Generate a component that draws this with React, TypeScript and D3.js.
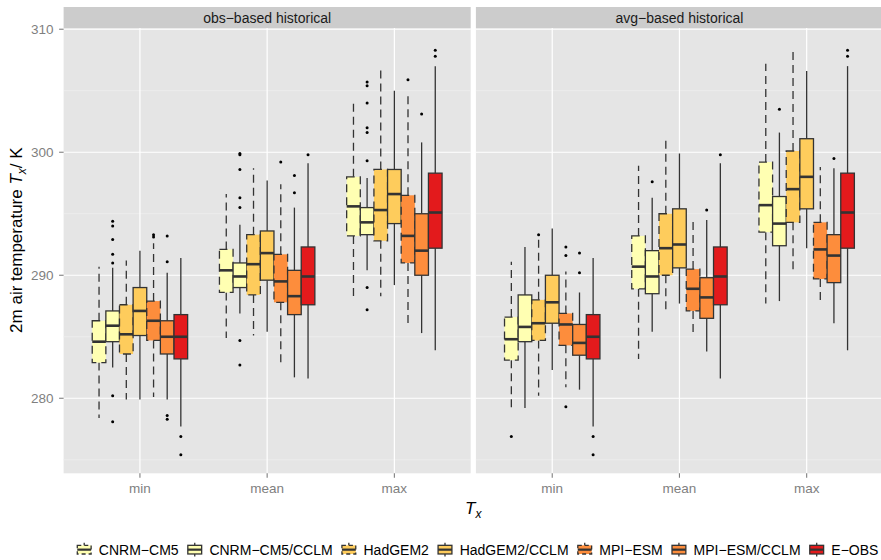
import React, { useRef, useEffect } from "react";
import * as d3 from "d3";

const width = 881;
const height = 560;
const panelTop = 28;
const panelBottom = 473.3;
const panelWidth = 407.1;
const panelLefts = [63.6, 475.9];
const stripHeight = 21;

const MODELS = ["CNRM−CM5", "CNRM−CM5/CCLM", "HadGEM2", "HadGEM2/CCLM", "MPI−ESM", "MPI−ESM/CCLM", "E−OBS"];
const FILLS = ["#FFFFB2", "#FFFFB2", "#FECC5C", "#FECC5C", "#FD8D3C", "#FD8D3C", "#E31A1C"];
const DASHED = [true, false, true, false, true, false, false];
const FACETS = ["obs−based historical", "avg−based historical"];
const STATS = ["min", "mean", "max"];
const Y_TICKS = [280, 290, 300, 310];
const Y_MINOR = [275, 285, 295, 305];

// each box: [lower whisker, q1, median, q3, upper whisker]
const obsMin = [
  [278.4, 282.9, 284.6, 286.3, 290.7],
  [282.5, 284.6, 285.9, 287.1, 290.6],
  [279.9, 283.6, 285.2, 287.6, 291.2],
  [279.9, 285.1, 287.1, 289.0, 292.0],
  [280.1, 284.7, 286.3, 287.9, 292.6],
  [279.9, 283.6, 285.0, 286.3, 290.2],
  [277.7, 283.2, 285.0, 286.8, 291.4],
];
const obsMinOut = [[], [294.4, 294.0, 292.9, 291.7, 291.0, 280.2, 278.1], [], [], [293.3, 293.1], [293.2, 291.1, 278.6, 278.3], [276.9, 275.4]];

const obsMean = [
  [284.9, 288.6, 290.4, 292.1, 296.6],
  [286.9, 289.0, 289.9, 291.0, 294.1],
  [285.1, 288.4, 290.9, 293.3, 298.7],
  [285.4, 289.6, 291.8, 293.6, 297.7],
  [282.8, 287.8, 289.5, 291.7, 297.4],
  [281.7, 286.8, 288.3, 290.4, 295.5],
  [281.6, 287.6, 289.9, 292.3, 299.1],
];
const obsMeanOut = [[], [299.9, 299.8, 298.6, 296.3, 295.5, 284.7, 282.7], [], [], [299.2], [298.1, 296.7], [299.8]];

const obsMax = [
  [288.3, 293.2, 295.6, 298.0, 304.3],
  [290.4, 293.3, 294.3, 295.5, 297.9],
  [288.3, 292.8, 295.3, 298.6, 306.7],
  [289.2, 294.2, 296.6, 298.6, 305.0],
  [285.8, 291.0, 293.2, 296.5, 304.7],
  [285.3, 290.0, 292.0, 295.0, 300.8],
  [283.9, 292.2, 295.1, 298.3, 307.0],
];
const obsMaxOut = [[], [305.7, 305.4, 304.0, 302.0, 301.6, 299.3, 289.0, 287.2], [], [], [305.9], [303.1], [308.3, 307.8]];

const avgMin = [
  [279.1, 283.1, 284.8, 286.6, 291.1],
  [279.2, 284.6, 285.8, 288.4, 292.3],
  [280.2, 284.7, 286.1, 288.0, 292.9],
  [282.3, 286.1, 287.8, 290.0, 293.8],
  [280.9, 284.3, 286.0, 286.9, 290.3],
  [280.7, 283.5, 284.5, 286.0, 288.6],
  [277.7, 283.2, 285.0, 286.8, 291.4],
];
const avgMinOut = [[276.9], [], [293.3], [], [292.3, 291.6, 279.3], [291.8, 290.2], [276.9, 275.4]];

const avgMean = [
  [283.2, 288.9, 290.7, 293.2, 298.9],
  [285.4, 288.5, 289.9, 292.0, 296.3],
  [287.2, 290.0, 292.2, 295.0, 301.2],
  [287.7, 290.6, 292.5, 295.4, 299.9],
  [285.2, 287.1, 288.9, 290.5, 294.5],
  [283.8, 286.5, 288.2, 289.8, 294.5],
  [281.6, 287.6, 289.9, 292.3, 299.1],
];
const avgMeanOut = [[], [297.6], [], [], [], [295.3], [299.8]];

const avgMax = [
  [287.7, 293.5, 295.7, 299.2, 307.2],
  [287.9, 292.4, 294.2, 296.4, 301.6],
  [290.1, 294.3, 297.0, 300.1, 308.2],
  [292.2, 295.4, 298.0, 301.1, 306.6],
  [287.7, 289.7, 292.1, 294.3, 298.8],
  [286.1, 289.4, 291.6, 293.3, 298.7],
  [283.9, 292.2, 295.1, 298.3, 307.0],
];
const avgMaxOut = [[], [303.5], [], [], [], [299.5], [308.3, 307.8]];

const BOXES = [[obsMin, obsMean, obsMax], [avgMin, avgMean, avgMax]];
const OUTLIERS = [[obsMinOut, obsMeanOut, obsMaxOut], [avgMinOut, avgMeanOut, avgMaxOut]];

const font = "'Liberation Sans', Arial, Helvetica, sans-serif";
const dash = "8,5";
const outline = "#333333";

const y = d3.scaleLinear().domain([273.9, 310.1]).range([panelBottom, panelTop]);

function drawChart(node: SVGSVGElement) {
  const svg = d3.select(node);
  svg.selectAll("*").remove();

  FACETS.forEach((facet, fi) => {
    const left = panelLefts[fi];
    const x = d3.scaleLinear().domain([0.4, 3.6]).range([left, left + panelWidth]);
    const g = svg.append("g");

    // strip
    g.append("rect")
      .attr("x", left).attr("y", panelTop - stripHeight)
      .attr("width", panelWidth).attr("height", stripHeight)
      .attr("fill", "#CCCCCC");
    g.append("text")
      .attr("x", left + panelWidth / 2).attr("y", panelTop - 5.5)
      .attr("text-anchor", "middle")
      .attr("font-size", 14).attr("font-family", font).attr("fill", "#1A1A1A")
      .text(facet);

    // panel
    g.append("rect")
      .attr("x", left).attr("y", panelTop)
      .attr("width", panelWidth).attr("height", panelBottom - panelTop)
      .attr("fill", "#E5E5E5");

    g.selectAll("line.minor").data(Y_MINOR).join("line")
      .attr("x1", left).attr("x2", left + panelWidth)
      .attr("y1", d => y(d)).attr("y2", d => y(d))
      .attr("stroke", "#F2F2F2").attr("stroke-width", 0.6);
    g.selectAll("line.major").data(Y_TICKS).join("line")
      .attr("x1", left).attr("x2", left + panelWidth)
      .attr("y1", d => y(d)).attr("y2", d => y(d))
      .attr("stroke", "#FFFFFF").attr("stroke-width", 1.2);
    g.selectAll("line.vgrid").data(STATS).join("line")
      .attr("x1", (d, i) => x(i + 1)).attr("x2", (d, i) => x(i + 1))
      .attr("y1", panelTop).attr("y2", panelBottom)
      .attr("stroke", "#FFFFFF").attr("stroke-width", 1.2);

    // x axis
    g.selectAll("line.xtick").data(STATS).join("line")
      .attr("x1", (d, i) => x(i + 1)).attr("x2", (d, i) => x(i + 1))
      .attr("y1", panelBottom).attr("y2", panelBottom + 4.5)
      .attr("stroke", "#7F7F7F").attr("stroke-width", 1.1);
    g.selectAll("text.xlab").data(STATS).join("text")
      .attr("x", (d, i) => x(i + 1)).attr("y", panelBottom + 20)
      .attr("text-anchor", "middle")
      .attr("font-size", 13.5).attr("font-family", font).attr("fill", "#7F7F7F")
      .text(d => d);

    // boxes
    const slot = (0.75 / MODELS.length);
    STATS.forEach((stat, si) => {
      MODELS.forEach((m, mi) => {
        const [lo, q1, med, q3, hi] = BOXES[fi][si][mi];
        const c = si + 1 + (mi - (MODELS.length - 1) / 2) * slot;
        const cx = x(c);
        const x0 = x(c - slot / 2);
        const x1 = x(c + slot / 2);
        const da = DASHED[mi] ? dash : null;
        const bg = g.append("g");
        bg.append("line")
          .attr("x1", cx).attr("x2", cx).attr("y1", y(q3)).attr("y2", y(hi))
          .attr("stroke", outline).attr("stroke-width", 1.3).attr("stroke-dasharray", da);
        bg.append("line")
          .attr("x1", cx).attr("x2", cx).attr("y1", y(q1)).attr("y2", y(lo))
          .attr("stroke", outline).attr("stroke-width", 1.3).attr("stroke-dasharray", da);
        bg.append("rect")
          .attr("x", x0).attr("y", y(q3))
          .attr("width", x1 - x0).attr("height", y(q1) - y(q3))
          .attr("fill", FILLS[mi])
          .attr("stroke", outline).attr("stroke-width", 1.3).attr("stroke-dasharray", da);
        bg.append("line")
          .attr("x1", x0).attr("x2", x1).attr("y1", y(med)).attr("y2", y(med))
          .attr("stroke", outline).attr("stroke-width", 2.6);
        bg.selectAll("circle").data(OUTLIERS[fi][si][mi]).join("circle")
          .attr("cx", cx).attr("cy", d => y(d)).attr("r", 1.5)
          .attr("fill", "#000000");
      });
    });
  });

  // y axis
  const ya = svg.append("g");
  ya.selectAll("line").data(Y_TICKS).join("line")
    .attr("x1", panelLefts[0] - 4.5).attr("x2", panelLefts[0])
    .attr("y1", d => y(d)).attr("y2", d => y(d))
    .attr("stroke", "#7F7F7F").attr("stroke-width", 1.1);
  ya.selectAll("text").data(Y_TICKS).join("text")
    .attr("x", panelLefts[0] - 10).attr("y", d => y(d) + 4.7)
    .attr("text-anchor", "end")
    .attr("font-size", 13.5).attr("font-family", font).attr("fill", "#7F7F7F")
    .text(d => d);

  // axis titles
  const yt = svg.append("text")
    .attr("transform", `translate(22,${(panelTop - stripHeight + panelBottom) / 2}) rotate(-90)`)
    .attr("text-anchor", "middle")
    .attr("font-size", 17).attr("font-family", font).attr("fill", "#000000");
  yt.append("tspan").text("2m air temperature ");
  yt.append("tspan").attr("font-style", "italic").text("T");
  yt.append("tspan").attr("font-style", "italic").attr("font-size", 12).attr("dy", 4).text("x");
  yt.append("tspan").attr("dy", -4).text("/ K");

  const plotCenter = (panelLefts[0] + panelLefts[1] + panelWidth) / 2;
  const xt = svg.append("text")
    .attr("x", plotCenter).attr("y", 514)
    .attr("text-anchor", "middle")
    .attr("font-size", 17).attr("font-family", font).attr("fill", "#000000");
  xt.append("tspan").attr("font-style", "italic").text("T");
  xt.append("tspan").attr("font-style", "italic").attr("font-size", 12).attr("dy", 4).text("x");

  // legend
  const keySize = 17.3;
  const legendY = 541;
  const lg = svg.append("g");
  const widths = MODELS.map(m => {
    const t = lg.append("text").attr("font-size", 14).attr("font-family", font).text(m);
    const w = (t.node() as SVGTextElement).getComputedTextLength();
    t.remove();
    return w;
  });
  const itemGap = 7.5;
  const textGap = 6;
  const total = d3.sum(widths) + MODELS.length * (keySize + textGap) + (MODELS.length - 1) * itemGap;
  let cur = 477 - total / 2;
  MODELS.forEach((m, mi) => {
    const kg = lg.append("g").attr("transform", `translate(${cur},${legendY})`);
    const da = DASHED[mi] ? "4,3" : null;
    kg.append("line")
      .attr("x1", keySize / 2).attr("x2", keySize / 2).attr("y1", keySize * 0.1).attr("y2", keySize * 0.9)
      .attr("stroke", outline).attr("stroke-width", 1.3).attr("stroke-dasharray", da);
    kg.append("rect")
      .attr("x", keySize * 0.1).attr("y", keySize * 0.25)
      .attr("width", keySize * 0.8).attr("height", keySize * 0.5)
      .attr("fill", FILLS[mi])
      .attr("stroke", outline).attr("stroke-width", 1.3).attr("stroke-dasharray", da);
    kg.append("line")
      .attr("x1", keySize * 0.1).attr("x2", keySize * 0.9).attr("y1", keySize / 2).attr("y2", keySize / 2)
      .attr("stroke", outline).attr("stroke-width", 2.2);
    lg.append("text")
      .attr("x", cur + keySize + textGap).attr("y", legendY + keySize / 2 + 5)
      .attr("font-size", 14).attr("font-family", font).attr("fill", "#000000")
      .text(m);
    cur += keySize + textGap + widths[mi] + itemGap;
  });
}

const App = () => {
  const svgRef = useRef<SVGSVGElement>(null);

  useEffect(() => {
    if (svgRef.current) drawChart(svgRef.current);
  }, []);

  return (
    <svg
      ref={svgRef}
      width={width}
      height={height}
      style={{ position: "absolute", left: 0, top: 0, background: "#FFFFFF" }}
    />
  );
};

export default App;
